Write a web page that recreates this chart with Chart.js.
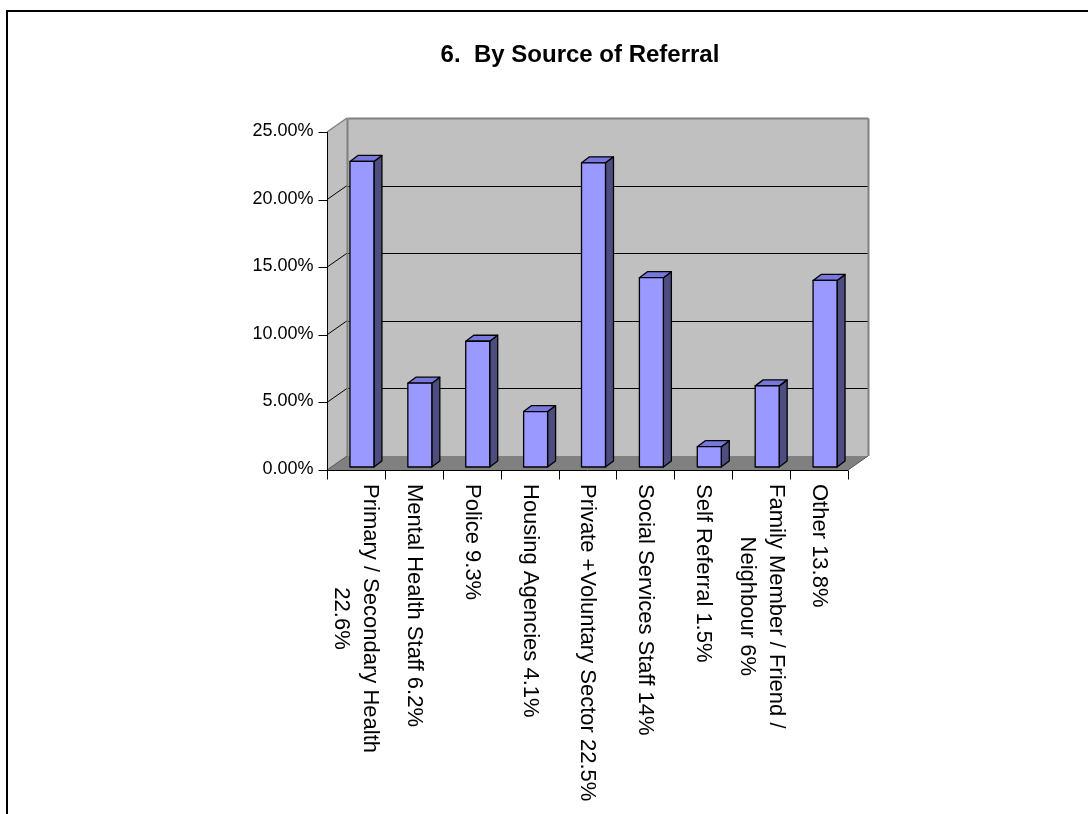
<!DOCTYPE html>
<html>
<head>
<meta charset="utf-8">
<script src="https://cdn.jsdelivr.net/npm/chart.js@4.4.1/dist/chart.umd.min.js"></script>
<style>
  html, body { margin: 0; padding: 0; background: #fff; }
  #wrap { width: 1088px; height: 814px; }
</style>
</head>
<body>
<div id="wrap"><canvas id="referralChart" width="1088" height="814"></canvas></div>
<script>
// --- data ---
const categories = [
    ['Primary / Secondary Health', '22.6%'],
    ['Mental Health Staff 6.2%'],
    ['Police 9.3%'],
    ['Housing Agencies 4.1%'],
    ['Private +Voluntary Sector 22.5%'],
    ['Social Services Staff 14%'],
    ['Self Referral 1.5%'],
    ['Family Member / Friend /', 'Neighbour 6%'],
    ['Other 13.8%']
];
const shares = [22.6, 6.2, 9.3, 4.1, 22.5, 14, 1.5, 6, 13.8];
const yTicks = [0, 5, 10, 15, 20, 25];
const chartTitle = '6.  By Source of Referral';

// --- look ---
const FONT = "'Liberation Sans', Arial, sans-serif";
const WALL_DX = 20, WALL_DY = -14;     // depth of the 3D box
const BAR_DX = 6, BAR_DY = -3;         // bars sit a little back from the front plane
const BAR_DEPTH_X = 8, BAR_DEPTH_Y = -6;

const px = v => Math.round(v) + 0.5;

function line(ctx, x1, y1, x2, y2, color, w) {
    ctx.beginPath();
    ctx.moveTo(x1, y1);
    ctx.lineTo(x2, y2);
    ctx.strokeStyle = color;
    ctx.lineWidth = w || 1;
    ctx.stroke();
}

function poly(ctx, pts, fill, stroke, w) {
    ctx.beginPath();
    ctx.moveTo(pts[0][0], pts[0][1]);
    for (let i = 1; i < pts.length; i++) ctx.lineTo(pts[i][0], pts[i][1]);
    ctx.closePath();
    if (fill) { ctx.fillStyle = fill; ctx.fill(); }
    if (stroke) { ctx.strokeStyle = stroke; ctx.lineWidth = w || 1; ctx.stroke(); }
}

const excel3d = {
    id: 'excel3d',
    beforeDraw(chart) {
        const ctx = chart.ctx;
        ctx.save();
        ctx.fillStyle = '#fff';
        ctx.fillRect(0, 0, chart.width, chart.height);
        // page frame (top + left only)
        line(ctx, 6, 11, chart.width, 11, '#000', 2);
        line(ctx, 7, 10, 7, chart.height, '#000', 2);
        // title
        ctx.fillStyle = '#000';
        ctx.font = 'bold 24px ' + FONT;
        ctx.textAlign = 'center';
        ctx.textBaseline = 'middle';
        ctx.fillText(chartTitle, 580, 55);
        ctx.restore();
    },
    beforeDatasetsDraw(chart) {
        const ctx = chart.ctx;
        const { left, right, top, bottom } = chart.chartArea;
        const yScale = chart.scales.y;
        const xScale = chart.scales.x;
        ctx.save();

        // walls and floor
        poly(ctx, [[left + WALL_DX, top + WALL_DY], [right + WALL_DX, top + WALL_DY],
                   [right + WALL_DX, bottom + WALL_DY], [left + WALL_DX, bottom + WALL_DY]], '#c0c0c0');
        poly(ctx, [[left, top], [left + WALL_DX, top + WALL_DY],
                   [left + WALL_DX, bottom + WALL_DY], [left, bottom]], '#c0c0c0');
        poly(ctx, [[left, bottom], [right, bottom],
                   [right + WALL_DX, bottom + WALL_DY], [left + WALL_DX, bottom + WALL_DY]], '#808080');

        // gridlines on back wall + side wall
        yTicks.forEach(v => {
            if (v === 0 || v === yScale.max) return;
            const y = yScale.getPixelForValue(v);
            line(ctx, px(left + WALL_DX), px(y + WALL_DY), px(right + WALL_DX), px(y + WALL_DY), '#000', 1);
            line(ctx, left, y, left + WALL_DX, y + WALL_DY, '#000', 1);
        });

        // wall borders
        const bx = px(left + WALL_DX), by = px(top + WALL_DY);
        line(ctx, left, top, left + WALL_DX, top + WALL_DY, '#808080', 1.5);
        line(ctx, bx, by, px(right + WALL_DX), by, '#808080', 2);
        line(ctx, px(right + WALL_DX), by, px(right + WALL_DX), bottom + WALL_DY, '#808080', 2);
        line(ctx, bx, by, bx, bottom + WALL_DY, '#808080', 2);
        // floor edges
        line(ctx, left, bottom, left + WALL_DX, bottom + WALL_DY, '#555', 1);
        line(ctx, right, bottom, right + WALL_DX, bottom + WALL_DY, '#555', 1);

        // y axis
        const ax = px(left);
        line(ctx, ax, top, ax, bottom, '#000', 1);
        ctx.fillStyle = '#000';
        ctx.font = '18px ' + FONT;
        ctx.textAlign = 'right';
        ctx.textBaseline = 'middle';
        yTicks.forEach(v => {
            const y = px(yScale.getPixelForValue(v));
            line(ctx, ax - 9, y, ax, y, '#000', 1);
            ctx.fillText(v.toFixed(2) + '%', ax - 14, y - 1);
        });

        // x axis
        const ay = px(bottom);
        line(ctx, left, ay, right, ay, '#000', 1);
        const step = (right - left) / categories.length;
        for (let i = 0; i <= categories.length; i++) {
            const x = px(left + i * step);
            line(ctx, x, ay, x, ay + 9, '#000', 1);
        }

        // category labels, rotated clockwise
        ctx.font = '22px ' + FONT;
        ctx.textAlign = 'center';
        ctx.textBaseline = 'middle';
        const lh = 29;
        categories.forEach((lines, i) => {
            const cx = xScale.getPixelForValue(i);
            const widest = Math.max(...lines.map(s => ctx.measureText(s).width));
            ctx.save();
            ctx.translate(cx, bottom + 14);
            ctx.rotate(Math.PI / 2);
            lines.forEach((s, j) => {
                ctx.fillText(s, widest / 2, (j - (lines.length - 1) / 2) * lh);
            });
            ctx.restore();
        });
        ctx.restore();
    },
    afterDatasetsDraw(chart) {
        const ctx = chart.ctx;
        const meta = chart.getDatasetMeta(0);
        ctx.save();
        ctx.lineJoin = 'round';
        meta.data.forEach(bar => {
            const p = bar.getProps(['x', 'y', 'base', 'width'], true);
            const x0 = p.x - p.width / 2 + BAR_DX;
            const x1 = x0 + p.width;
            const yt = p.y + BAR_DY;
            const yb = p.base + BAR_DY;
            // side face
            poly(ctx, [[x1, yt], [x1 + BAR_DEPTH_X, yt + BAR_DEPTH_Y],
                       [x1 + BAR_DEPTH_X, yb + BAR_DEPTH_Y], [x1, yb]], '#4d4d80', '#000', 1.3);
            // top face
            poly(ctx, [[x0, yt], [x0 + BAR_DEPTH_X, yt + BAR_DEPTH_Y],
                       [x1 + BAR_DEPTH_X, yt + BAR_DEPTH_Y], [x1, yt]], '#7777dd', '#000', 1.3);
            // front face
            poly(ctx, [[x0, yt], [x1, yt], [x1, yb], [x0, yb]], '#9999ff', '#000', 1.3);
        });
        ctx.restore();
    }
};

new Chart(document.getElementById('referralChart'), {
    type: 'bar',
    data: {
        labels: categories,
        datasets: [{
            data: shares,
            backgroundColor: 'rgba(0,0,0,0)',
            borderWidth: 0,
            categoryPercentage: 1,
            barPercentage: 0.414
        }]
    },
    options: {
        responsive: false,
        animation: false,
        layout: { padding: { left: 327, right: 240, top: 132, bottom: 344 } },
        plugins: {
            legend: { display: false },
            tooltip: { enabled: false },
            title: { display: false }
        },
        scales: {
            x: { display: false },
            y: { display: false, min: 0, max: 25, ticks: { stepSize: 5 } }
        }
    },
    plugins: [excel3d]
});
</script>
</body>
</html>
